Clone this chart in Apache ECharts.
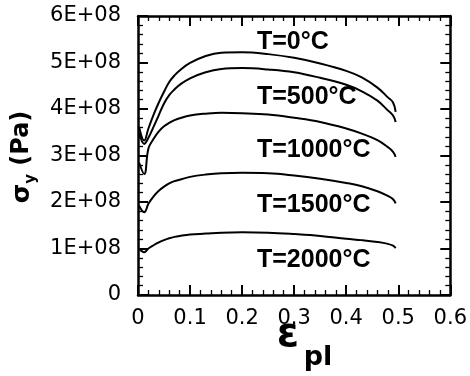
<!DOCTYPE html>
<html><head><meta charset="utf-8">
<script src="https://cdn.jsdelivr.net/npm/echarts@6/dist/echarts.min.js"></script>
<style>html,body{margin:0;padding:0;background:#fff}#c{width:470px;height:376px}</style>
</head><body><div id="c"></div><script>
// plastic strain (shared x values)
const strain = [0.002, 0.012, 0.02, 0.03, 0.04, 0.05, 0.06, 0.07, 0.08, 0.1, 0.13, 0.16, 0.2, 0.25, 0.3, 0.35, 0.4, 0.43, 0.46, 0.48, 0.49, 0.495];
// yield stress in Pa
const stress0C    = [3.62e8, 3.32e8, 3.58e8, 3.88e8, 4.14e8, 4.37e8, 4.58e8, 4.72e8, 4.83e8, 4.99e8, 5.14e8, 5.21e8, 5.22e8, 5.18e8, 5.10e8, 4.98e8, 4.82e8, 4.68e8, 4.46e8, 4.25e8, 4.14e8, 3.94e8];
const stress500C  = [3.50e8, 3.25e8, 3.38e8, 3.62e8, 3.87e8, 4.12e8, 4.30e8, 4.42e8, 4.52e8, 4.66e8, 4.79e8, 4.86e8, 4.88e8, 4.85e8, 4.79e8, 4.67e8, 4.52e8, 4.38e8, 4.18e8, 3.97e8, 3.86e8, 3.72e8];
const stress1000C = [2.85e8, 2.60e8, 3.15e8, 3.36e8, 3.52e8, 3.63e8, 3.70e8, 3.76e8, 3.80e8, 3.86e8, 3.90e8, 3.92e8, 3.91e8, 3.88e8, 3.81e8, 3.72e8, 3.58e8, 3.47e8, 3.33e8, 3.18e8, 3.08e8, 2.97e8];
const stress1500C = [1.92e8, 1.78e8, 1.96e8, 2.12e8, 2.24e8, 2.33e8, 2.40e8, 2.45e8, 2.48e8, 2.54e8, 2.59e8, 2.62e8, 2.63e8, 2.62e8, 2.57e8, 2.50e8, 2.41e8, 2.34e8, 2.23e8, 2.13e8, 2.06e8, 1.97e8];
const stress2000C = [1.00e8, 0.92e8, 1.00e8, 1.07e8, 1.13e8, 1.18e8, 1.22e8, 1.25e8, 1.27e8, 1.30e8, 1.32e8, 1.34e8, 1.35e8, 1.34e8, 1.31e8, 1.27e8, 1.21e8, 1.18e8, 1.14e8, 1.10e8, 1.06e8, 1.01e8];
const curveNames = ['T=0°C', 'T=500°C', 'T=1000°C', 'T=1500°C', 'T=2000°C'];
const yTickLabels = ['0', '1E+08', '2E+08', '3E+08', '4E+08', '5E+08', '6E+08'];
const xTickLabels = ['0', '0.1', '0.2', '0.3', '0.4', '0.5', '0.6'];

const allStress = [stress0C, stress500C, stress1000C, stress1500C, stress2000C];
const FONT = 'DejaVu Sans';
const chart = echarts.init(document.getElementById('c'), null, {renderer: 'canvas'});

function axisBase(showLabel, pos, isX) {
  return {
    type: 'value', position: pos,
    min: 0, max: isX ? 0.6 : 6e8, interval: isX ? 0.1 : 1e8,
    axisLine: {show: true, onZero: false, lineStyle: {color: '#000', width: 2.5}},
    axisTick: {show: true, inside: true, length: 10, lineStyle: {color: '#000', width: 2}},
    minorTick: {show: true, splitNumber: 5, length: 5, lineStyle: {color: '#000', width: 1.3}},
    splitLine: {show: false},
    axisLabel: showLabel ? {
      show: true, color: '#000', fontFamily: FONT, fontSize: 21,
      margin: isX ? 13 : 17,
      formatter: isX ? (v => xTickLabels[Math.round(v / 0.1)]) : (v => yTickLabels[Math.round(v / 1e8)])
    } : {show: false}
  };
}

const labelYs = [42, 97, 150, 205, 260];

chart.setOption({
  animation: false,
  backgroundColor: '#fff',
  grid: {left: 138, right: 17, top: 16, bottom: 81, containLabel: false},
  xAxis: [axisBase(true, 'bottom', true), axisBase(false, 'top', true)],
  yAxis: [axisBase(true, 'left', false), axisBase(false, 'right', false)],
  series: allStress.map((arr, k) => ({
    type: 'line', name: curveNames[k], xAxisIndex: 0, yAxisIndex: 0,
    data: strain.map((x, i) => [x, arr[i]]),
    smooth: 0.4, showSymbol: false, symbol: 'none',
    lineStyle: {color: '#000', width: 2}
  })),
  graphic: [
    ...curveNames.map((t, k) => ({
      type: 'text', x: 257, y: labelYs[k], z: 10,
      style: {text: t, font: 'bold 25px "Liberation Sans"', fill: '#000', align: 'left', verticalAlign: 'middle'}
    })),
    {
      type: 'text', x: 22, y: 157, rotation: Math.PI / 2, z: 10,
      style: {
        text: '{s|σ}{y|y}{p| (Pa)}', align: 'center', verticalAlign: 'middle',
        rich: {
          s: {font: 'bold 25px "DejaVu Sans"', fill: '#000'},
          y: {font: 'bold 15px "DejaVu Sans"', fill: '#000', verticalAlign: 'bottom', padding: [0, 0, -4, 0]},
          p: {font: 'bold 24px "DejaVu Sans"', fill: '#000'}
        }
      }
    },
    {
      type: 'text', x: 288, y: 336, z: 10,
      style: {text: 'ε', font: 'bold 40px "DejaVu Sans"', fill: '#000', align: 'center', verticalAlign: 'middle'}
    },
    {
      type: 'text', x: 318, y: 358, z: 10,
      style: {text: 'pl', font: 'bold 27px "DejaVu Sans"', fill: '#000', align: 'center', verticalAlign: 'middle'}
    }
  ]
});
</script></body></html>
